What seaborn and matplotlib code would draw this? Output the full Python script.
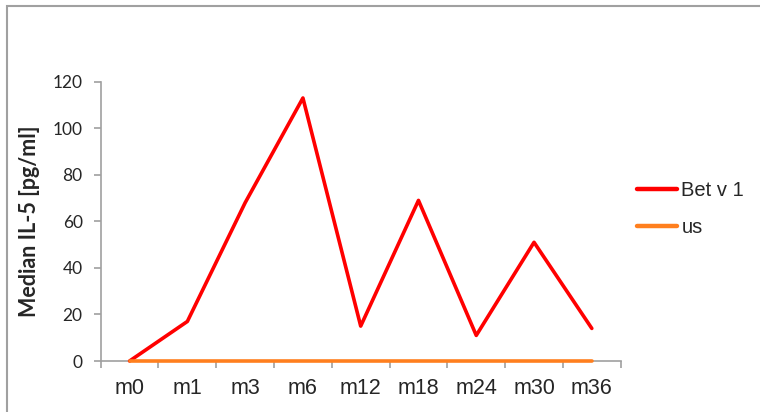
import pandas as pd
import matplotlib
matplotlib.use("Agg")
import matplotlib.pyplot as plt
import seaborn as sns
from matplotlib.patches import Rectangle
from matplotlib.ticker import FixedLocator, NullFormatter

# Daten
months = ['m0', 'm1', 'm3', 'm6', 'm12', 'm18', 'm24', 'm30', 'm36']
betv1 = [0, 17, 68, 113, 15, 69, 11, 51, 14]
us = [0, 0, 0, 0, 0, 0, 0, 0, 0]
series_names = ['Bet v 1', 'us']
y_ticks = [0, 20, 40, 60, 80, 100, 120]

df = pd.DataFrame({
    'Monat': months * 2,
    'Wert': betv1 + us,
    'Serie': [series_names[0]] * len(months) + [series_names[1]] * len(months),
})

sns.set_style('white')
W, H = 760, 412
fig = plt.figure(figsize=(W / 100, H / 100), dpi=100)
ax = fig.add_axes([100.7 / W, (H - 361) / H, 520 / W, (361 - 81.7) / H])

sns.lineplot(data=df, x='Monat', y='Wert', hue='Serie',
             palette={'Bet v 1': '#ff0000', 'us': '#ff7f1e'},
             linewidth=2.6, ax=ax, legend=True, sort=False)
# Linien ueber der Achse zeichnen
for line in ax.get_lines():
    line.set_clip_on(False)
    line.set_zorder(5)
    line.set_solid_capstyle('round')

ax.set_xlim(-0.5, len(months) - 0.5)
ax.set_ylim(0, 120)
ax.set_yticks(y_ticks)
ax.set_yticklabels([str(v) for v in y_ticks], family='Lato', fontsize=12.5)
ax.set_xticks(range(len(months)))
ax.set_xticklabels(months, family='Liberation Sans', fontsize=15.5)
ax.xaxis.set_minor_locator(FixedLocator([i - 0.5 for i in range(len(months) + 1)]))
ax.xaxis.set_minor_formatter(NullFormatter())
ax.tick_params(axis='x', which='major', length=0, pad=12)
ax.tick_params(axis='x', which='minor', length=5, color='#a0a0a0', width=1.2, direction='out', bottom=True)
ax.tick_params(axis='y', length=5, color='#a0a0a0', width=1.2, direction='out', left=True, pad=8)

for side in ['top', 'right']:
    ax.spines[side].set_visible(False)
for side in ['left', 'bottom']:
    ax.spines[side].set_color('#a0a0a0')
    ax.spines[side].set_linewidth(1.2)

ax.set_xlabel('')
ax.set_ylabel('Median IL-5 [pg/ml]', family='Lato', fontweight='bold', fontsize=15.5, labelpad=9)

leg = ax.legend(loc='center left', bbox_to_anchor=(619 / W, 1 - 209 / H),
                bbox_transform=fig.transFigure, frameon=False,
                prop={'family': 'Liberation Sans', 'size': 14.5},
                handlelength=2.0, handletextpad=0.2, labelspacing=0.85)
for line in leg.get_lines():
    line.set_linewidth(3.2)

# grauer Rahmen (Diagrammbereich)
fig.patches.append(Rectangle((7 / W, -0.1), 1.2, (H - 6) / H + 0.1,
                             transform=fig.transFigure, fill=False,
                             edgecolor='#a0a0a0', linewidth=1.5))

fig.savefig('out.png', dpi=100)
